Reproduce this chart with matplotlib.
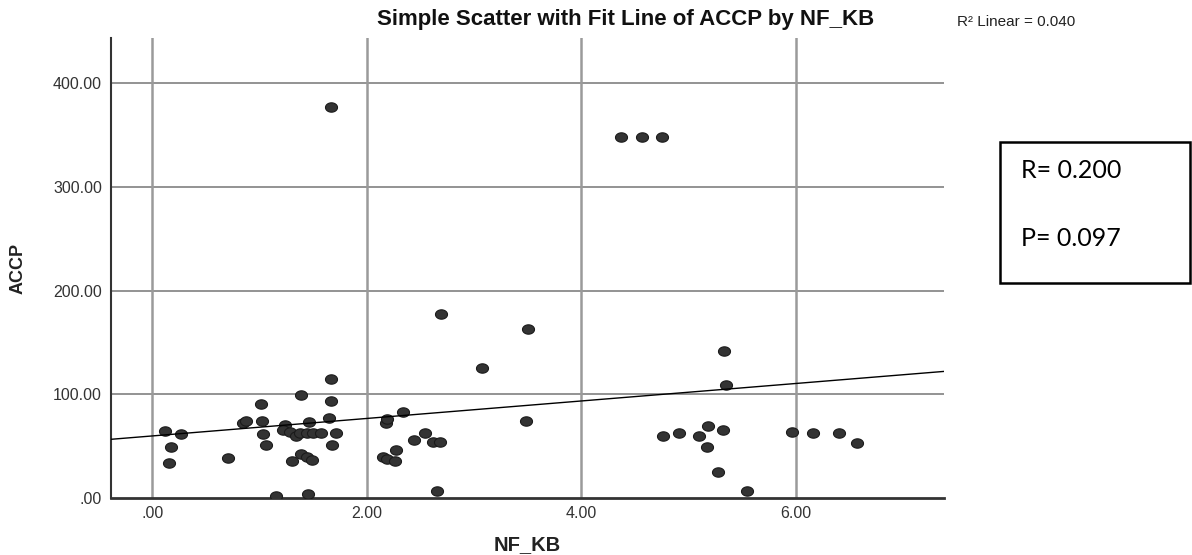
import numpy as np
import matplotlib
matplotlib.use("Agg")
import matplotlib.pyplot as plt
from matplotlib.path import Path

# ---- data ----
nf_kb = [0.12, 0.27, 0.17, 0.16, 0.71, 0.85, 0.87, 1.01, 1.02, 1.03, 1.06, 1.15,
         1.24, 1.22, 1.28, 1.34, 1.38, 1.44, 1.50, 1.57, 1.46, 1.39, 1.30, 1.39,
         1.44, 1.49, 1.45, 1.67, 1.67, 1.65, 1.71, 1.68, 1.67, 2.18, 2.19, 2.15,
         2.19, 2.26, 2.27, 2.34, 2.44, 2.54, 2.62, 2.68, 2.66, 2.69, 3.08, 3.49,
         3.50, 4.37, 4.57, 4.75, 4.76, 4.91, 5.10, 5.18, 5.17, 5.32, 5.28, 5.55,
         5.33, 5.35, 5.97, 6.16, 6.41, 6.57]
accp = [65, 62, 49, 33.5, 39, 72.5, 74.5, 91, 74, 62, 51, 2,
        70.5, 65.5, 64, 60, 62.5, 63, 62.5, 63, 73.5, 99.5, 36, 42.5,
        39.5, 37, 4, 114.5, 93.5, 77, 63, 51.5, 377, 72.5, 76, 40,
        38, 35.5, 46, 82.5, 55.5, 63, 54, 54, 6.5, 177, 125, 74,
        163, 348.5, 348.5, 348.5, 60, 62.5, 60, 69, 49.5, 66, 25, 7,
        142, 109, 63.5, 63, 62.5, 53.5]
x_ticks = [0, 2, 4, 6]
x_tick_labels = [".00", "2.00", "4.00", "6.00"]
y_ticks = [0, 100, 200, 300, 400]
y_tick_labels = [".00", "100.00", "200.00", "300.00", "400.00"]
title = "Simple Scatter with Fit Line of ACCP by NF_KB"
r2_text = "R\u00b2 Linear = 0.040"
stats_lines = ["R= 0.200", "P= 0.097"]

x = np.array(nf_kb)
y = np.array(accp)

fig = plt.figure(figsize=(11.92, 5.55), dpi=100)
ax = fig.add_axes([111 / 1192, 1 - 498 / 555, (944 - 111) / 1192, (498 - 38) / 555])
xlim = (-0.385, 7.385)
ylim = (0, 443.7)
ax.set_xlim(*xlim)
ax.set_ylim(*ylim)

# grid
for yt in y_ticks[1:]:
    ax.axhline(yt, color="#8a8a8a", lw=1.3, zorder=1)
for xt in x_ticks:
    ax.axvline(xt, color="#9a9a9a", lw=1.8, zorder=1)

# elliptical marker
t = np.linspace(0, 2 * np.pi, 40)
ell = Path(np.column_stack([np.cos(t), 0.78 * np.sin(t)]), closed=True)
ax.scatter(x, y, s=75, marker=ell, facecolor="#333333", edgecolor="#1a1a1a",
           linewidths=0.8, zorder=3)

# fit line from data
slope, intercept = np.polyfit(x, y, 1)
xs = np.array(xlim)
ax.plot(xs, intercept + slope * xs, color="black", lw=1.0, zorder=4)

for s in ["top", "right"]:
    ax.spines[s].set_visible(False)
ax.spines["left"].set_color("#333333")
ax.spines["left"].set_linewidth(1.5)
ax.spines["bottom"].set_color("#333333")
ax.spines["bottom"].set_linewidth(2)

ax.set_xticks(x_ticks)
ax.set_xticklabels(x_tick_labels)
ax.set_yticks(y_ticks)
ax.set_yticklabels(y_tick_labels)
ax.tick_params(length=0, labelsize=11.5, labelcolor="#333333")
ax.tick_params(axis="x", pad=5.5)
ax.tick_params(axis="y", pad=6.5)
for lab in ax.get_xticklabels() + ax.get_yticklabels():
    lab.set_family("Liberation Sans")

fig.text(527 / 1192, 1 - 545 / 555, "NF_KB", fontsize=14.5, fontweight="bold",
         family="Liberation Sans", ha="center", va="center", color="#222222")
fig.text(18 / 1192, 1 - 268 / 555, "ACCP", rotation=90, fontsize=13,
         fontweight="bold", family=["Liberation Sans Narrow", "Liberation Sans"],
         ha="center", va="center", color="#222222")

fig.text(626 / 1192, 1 - 20 / 555, title, fontsize=16, fontweight="bold",
         family="Liberation Sans", ha="center", va="center", color="#111111")
fig.text(957 / 1192, 1 - 22 / 555, r2_text, fontsize=11, family="Liberation Sans",
         ha="left", va="center", color="#222222")

# stats box
box = plt.Rectangle((1000 / 1192, 1 - 283 / 555), 190 / 1192, 141 / 555,
                    transform=fig.transFigure, fill=False, edgecolor="black",
                    lw=1.8)
fig.add_artist(box)
fig.text(1021 / 1192, 1 - 171 / 555, stats_lines[0], fontsize=18, family="Lato",
         ha="left", va="center", color="black")
fig.text(1021 / 1192, 1 - 239 / 555, stats_lines[1], fontsize=18, family="Lato",
         ha="left", va="center", color="black")

fig.savefig("out.png", dpi=100)
